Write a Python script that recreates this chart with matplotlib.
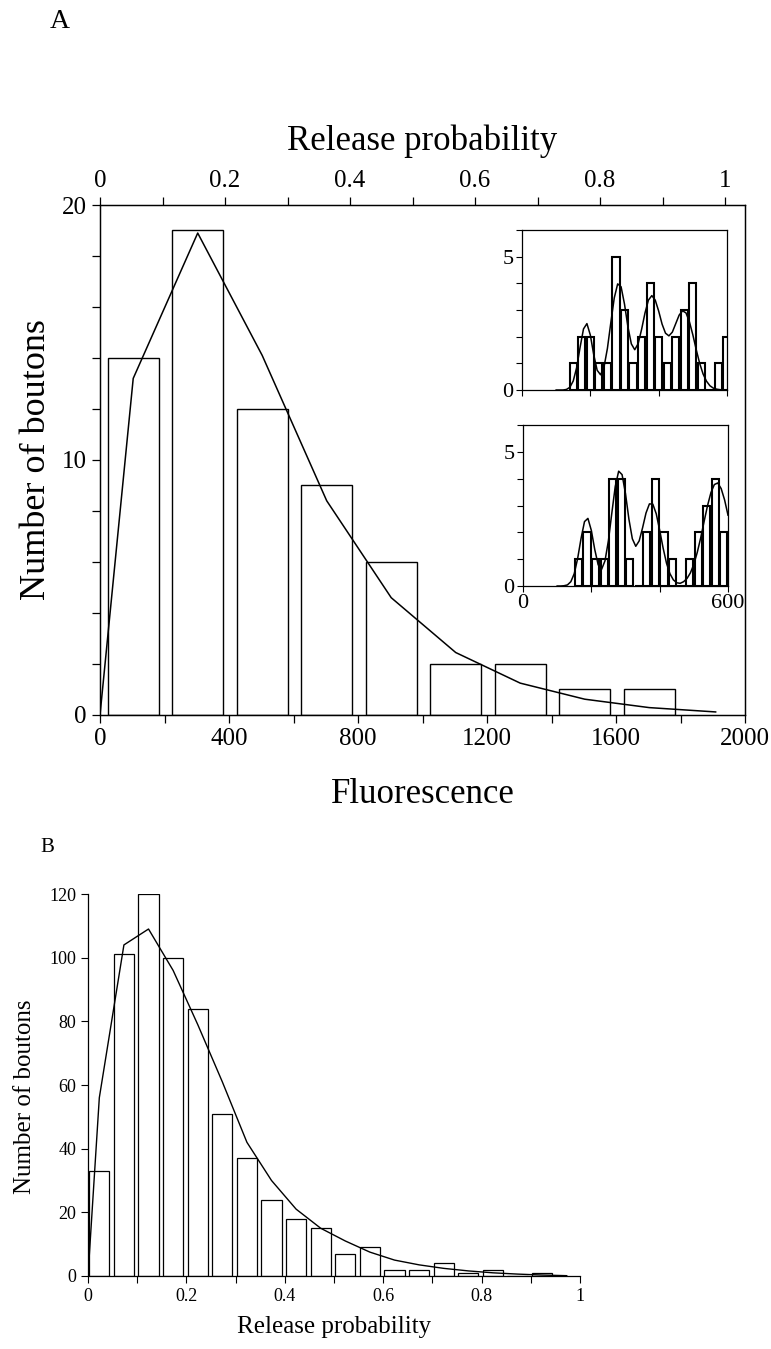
import matplotlib
matplotlib.use("Agg")
import matplotlib.pyplot as plt
import numpy as np

plt.rcParams['font.family'] = ['Liberation Serif', 'DejaVu Serif']
plt.rcParams['axes.linewidth'] = 0.9

# ---------------- Panel A data ----------------
a_bin_centers = [103, 303, 503, 703, 903, 1103, 1303, 1503, 1703]
a_counts = [14, 19, 12, 9, 6, 2, 2, 1, 1]
a_fit_x = [0, 103, 303, 503, 703, 903, 1103, 1303, 1503, 1703, 1909]
a_fit_y = [0, 13.2, 18.9, 14.1, 8.4, 4.6, 2.45, 1.25, 0.62, 0.29, 0.12]
a_xticks = [0, 400, 800, 1200, 1600, 2000]
a_top_ticks = [0, 0.2, 0.4, 0.6, 0.8, 1]
a_top_labels = ['0', '0.2', '0.4', '0.6', '0.8', '1']

# inset 1 (upper)
in1_centers = [150, 175, 200, 225, 250, 275, 300, 325, 350, 375, 400, 425,
               450, 475, 500, 525, 550, 575, 600]
in1_counts = [1, 2, 2, 1, 1, 5, 3, 1, 2, 4, 2, 1, 2, 3, 4, 1, 0, 1, 2]
in1_fit_x = list(range(100, 610, 10))
in1_fit_y = [0.00, 0.00, 0.00, 0.02, 0.10, 0.34, 0.84, 1.60, 2.29, 2.49,
             2.06, 1.32, 0.74, 0.57, 0.86, 1.56, 2.53, 3.45, 3.98, 3.87,
             3.22, 2.37, 1.73, 1.51, 1.74, 2.27, 2.89, 3.37, 3.54, 3.37,
             2.96, 2.47, 2.13, 2.03, 2.17, 2.49, 2.81, 2.97, 2.89, 2.56,
             2.07, 1.51, 1.00, 0.60, 0.33, 0.16, 0.07, 0.03, 0.01, 0.00, 0.00]

# inset 2 (lower)
in2_centers = [162.5, 187.5, 212.5, 237.5, 262.5, 287.5, 312.5, 337.5, 362.5,
               387.5, 412.5, 437.5, 462.5, 487.5, 512.5, 537.5, 562.5, 587.5]
in2_counts = [1, 2, 1, 1, 4, 4, 1, 0, 2, 4, 2, 1, 0, 1, 2, 3, 4, 2]
in2_fit_x = list(range(100, 610, 10))
in2_fit_y = [0.00, 0.00, 0.01, 0.04, 0.16, 0.46, 1.03, 1.78, 2.40, 2.52,
             2.07, 1.36, 0.79, 0.62, 0.94, 1.69, 2.72, 3.71, 4.28, 4.15,
             3.44, 2.49, 1.76, 1.48, 1.68, 2.17, 2.72, 3.06, 3.05, 2.69,
             2.08, 1.42, 0.85, 0.46, 0.23, 0.12, 0.10, 0.16, 0.28, 0.49,
             0.81, 1.25, 1.79, 2.40, 2.99, 3.48, 3.78, 3.84, 3.63, 3.21, 2.64]

# ---------------- Panel B data ----------------
b_centers = [0.023, 0.073, 0.123, 0.173, 0.223, 0.273, 0.323, 0.373, 0.423,
             0.473, 0.523, 0.573, 0.623, 0.673, 0.723, 0.773, 0.823, 0.873, 0.923]
b_counts = [33, 101, 120, 100, 84, 51, 37, 24, 18, 15, 7, 9, 2, 2, 4, 1, 2, 0, 1]
b_fit_x = [0, 0.023, 0.073, 0.123, 0.173, 0.223, 0.273, 0.323, 0.373, 0.423,
           0.473, 0.523, 0.573, 0.623, 0.673, 0.723, 0.773, 0.823, 0.873,
           0.923, 0.973]
b_fit_y = [0, 56, 104, 109, 96, 79, 61, 42, 30, 21, 15, 11, 7.5, 5, 3.5,
           2.4, 1.6, 1.0, 0.6, 0.3, 0.1]
b_xticks = [0, 0.2, 0.4, 0.6, 0.8, 1]
b_xlabels = ['0', '0.2', '0.4', '0.6', '0.8', '1']

W, H = 771, 1349
fig = plt.figure(figsize=(W / 100, H / 100), dpi=100)


def rect(l, t, r, b):
    return [l / W, 1 - b / H, (r - l) / W, (b - t) / H]


# ---------------- Panel A main ----------------
ax = fig.add_axes(rect(100, 205, 745, 715))
ax.bar(a_bin_centers, a_counts, width=158, facecolor='white',
       edgecolor='black', linewidth=1.0, zorder=2)
ax.plot(a_fit_x, a_fit_y, color='black', linewidth=1.1, zorder=3)
ax.set_xlim(0, 2000)
ax.set_ylim(0, 20)
ax.set_xticks(a_xticks)
ax.set_xticks(np.arange(0, 2001, 200), minor=True)
ax.set_yticks([0, 10, 20])
ax.set_yticks(np.arange(0, 21, 2), minor=True)
ax.tick_params(axis='both', which='major', direction='out', length=6,
               width=0.9, labelsize=18)
ax.tick_params(axis='both', which='minor', direction='out', length=6,
               width=0.9)
ax.set_xlabel('Fluorescence', fontsize=25, labelpad=20)
ax.set_ylabel('Number of boutons', fontsize=26, labelpad=6)

axt = ax.twiny()
axt.set_xlim(0, 2000 / 1938)
axt.set_xticks(a_top_ticks)
axt.set_xticklabels(a_top_labels)
axt.set_xticks(np.arange(0, 1.01, 0.1), minor=True)
axt.tick_params(axis='x', which='both', direction='out', length=6,
                width=0.9, labelsize=18)
axt.set_xlabel('Release probability', fontsize=25, labelpad=14)

fig.text(50 / W, 1 - 22 / H, 'A', fontsize=20, ha='left', va='center')

# ---------------- Insets ----------------
def inset(pos, centers, counts, fx, fy, show_xlabels):
    ai = fig.add_axes(pos)
    ai.bar(centers, counts, width=21, facecolor='white', edgecolor='black',
           linewidth=1.5, zorder=2)
    ai.plot(fx, fy, color='black', linewidth=1.1, zorder=3)
    ai.set_xlim(0, 600)
    ai.set_ylim(0, 6)
    ai.set_xticks([0, 200, 400, 600])
    ai.set_yticks([0, 5])
    ai.set_yticks(range(0, 7), minor=True)
    ai.tick_params(axis='both', which='both', direction='out', length=4,
                   width=0.8, labelsize=16, pad=2)
    if show_xlabels:
        ai.set_xticklabels(['0', '', '', '600'])
    else:
        ai.set_xticklabels([])
    return ai


inset(rect(522, 230, 727, 390), in1_centers, in1_counts, in1_fit_x, in1_fit_y, False)
inset(rect(523, 425, 728, 586), in2_centers, in2_counts, in2_fit_x, in2_fit_y, True)

# ---------------- Panel B ----------------
bx = fig.add_axes(rect(88, 894, 580, 1276))
bx.bar(b_centers, b_counts, width=0.041, facecolor='white', edgecolor='black',
       linewidth=0.9, zorder=2)
bx.plot(b_fit_x, b_fit_y, color='black', linewidth=1.0, zorder=3)
bx.set_xlim(0, 1)
bx.set_ylim(0, 120)
bx.set_xticks(b_xticks)
bx.set_xticklabels(b_xlabels)
bx.set_xticks(np.arange(0, 1.01, 0.1), minor=True)
bx.set_yticks(range(0, 121, 20))
bx.spines['top'].set_visible(False)
bx.spines['right'].set_visible(False)
bx.tick_params(axis='both', which='both', direction='out', length=5,
               width=0.8, labelsize=13)
bx.set_xlabel('Release probability', fontsize=18, labelpad=8)
bx.set_ylabel('Number of boutons', fontsize=18)
bx.yaxis.set_label_coords(-0.105, 0.47)

fig.text(40 / W, 1 - 848 / H, 'B', fontsize=15, ha='left', va='center')

fig.savefig('out.png', dpi=100)
